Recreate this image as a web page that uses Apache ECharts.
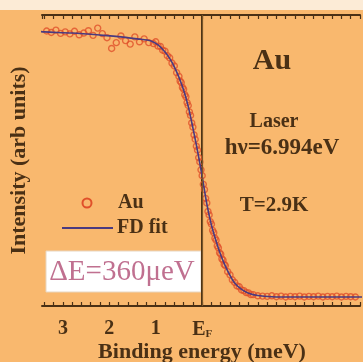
<!DOCTYPE html>
<html>
<head>
<meta charset="utf-8">
<script src="https://cdn.jsdelivr.net/npm/echarts@6/dist/echarts.min.js"></script>
<style>
  html, body { margin: 0; padding: 0; background: #f9b86e; }
  #chart { width: 363px; height: 362px; }
</style>
</head>
<body>
<div id="chart"></div>
<script>
// Photoemission Fermi edge of Au, laser source, T = 2.9 K
const fitEnergy = [3.6, 3.4, 2.8, 2.2, 1.7, 1.4, 1.1, 0.95, 0.8, 0.7, 0.6, 0.5, 0.4, 0.3, 0.2, 0.1, 0,
  -0.1, -0.2, -0.3, -0.4, -0.5, -0.6, -0.7, -0.85, -1.0, -1.2, -1.5, -2.0, -3.6];
const fitIntensity = [0.945, 0.942, 0.938, 0.931, 0.924, 0.918, 0.911, 0.897, 0.873, 0.851, 0.822, 0.786, 0.742, 0.686, 0.612, 0.533, 0.445,
  0.351, 0.278, 0.223, 0.175, 0.137, 0.105, 0.079, 0.057, 0.044, 0.036, 0.032, 0.031, 0.031];

const dataEnergy = [3.35, 3.25, 3.15, 3.05, 2.95, 2.85, 2.75, 2.65, 2.55, 2.45, 2.35, 2.25, 2.15, 2.05,
  1.95, 1.85, 1.75, 1.65, 1.55, 1.45, 1.35, 1.25, 1.15, 1.05,
  1.0, 0.95, 0.9, 0.85, 0.8, 0.75, 0.7, 0.65, 0.6, 0.55, 0.5,
  0.475, 0.45, 0.425, 0.4, 0.375, 0.35, 0.325, 0.3, 0.275, 0.25, 0.225, 0.2, 0.175, 0.15, 0.125, 0.1,
  0.075, 0.05, 0.025, 0, -0.025, -0.05, -0.075, -0.1, -0.125, -0.15, -0.175, -0.2, -0.225, -0.25,
  -0.275, -0.3, -0.325, -0.35, -0.375, -0.4, -0.425, -0.45, -0.475, -0.5,
  -0.55, -0.6, -0.65, -0.7, -0.75, -0.8, -0.85, -0.9, -0.95, -1.0, -1.05, -1.1,
  -1.2, -1.3, -1.4, -1.5, -1.6, -1.7, -1.8, -1.9, -2.0, -2.1, -2.2, -2.3, -2.4, -2.5,
  -2.6, -2.7, -2.8, -2.9, -3.0, -3.1, -3.2, -3.3];
const dataIntensity = [0.945, 0.940, 0.948, 0.937, 0.942, 0.935, 0.944, 0.932, 0.938, 0.946, 0.930, 0.955, 0.936, 0.922,
  0.885, 0.905, 0.928, 0.912, 0.900, 0.925, 0.908, 0.918, 0.905, 0.902,
  0.908, 0.893, 0.892, 0.879, 0.876, 0.860, 0.853, 0.835, 0.825, 0.802, 0.789,
  0.773, 0.768, 0.751, 0.745, 0.726, 0.719, 0.699, 0.689, 0.667, 0.655, 0.629, 0.615, 0.588, 0.573, 0.549, 0.536,
  0.510, 0.495, 0.468, 0.448, 0.418, 0.400, 0.370, 0.354, 0.325, 0.313, 0.290, 0.281, 0.260, 0.252,
  0.233, 0.226, 0.207, 0.200, 0.183, 0.178, 0.162, 0.158, 0.143, 0.139,
  0.118, 0.107, 0.090, 0.081, 0.069, 0.066, 0.055, 0.053, 0.046, 0.045, 0.039, 0.039,
  0.035, 0.034, 0.033, 0.035, 0.032, 0.034, 0.031, 0.033, 0.032, 0.034, 0.031, 0.033, 0.032, 0.034,
  0.031, 0.033, 0.032, 0.034, 0.031, 0.033, 0.032, 0.031];

const tickLabels = { 3: '3', 2: '2', 1: '1' };

const ink = '#4a3015';
const serif = 'Liberation Serif';

const chart = echarts.init(document.getElementById('chart'), null, { renderer: 'canvas' });

const isWhole = v => Math.abs(v - Math.round(v)) < 1e-6;

const axisCommon = {
  type: 'value', min: -3.4, max: 3.45, inverse: true, interval: 0.2,
  splitLine: { show: false },
  axisLine: { show: true, lineStyle: { color: ink, width: 2 } },
  axisTick: { show: true, inside: true, length: 4, lineStyle: { color: ink, width: 1.2 } }
};

chart.setOption({
  backgroundColor: '#f9b86e',
  animation: false,
  grid: { left: 42, top: 15, right: 0, height: 291 },
  xAxis: [
    Object.assign({}, axisCommon, {
      position: 'bottom',
      axisLabel: {
        margin: 13, interval: 0, showMinLabel: true, showMaxLabel: false,
        color: ink, fontFamily: serif, fontSize: 20, fontWeight: 'bold',
        formatter: v => {
          if (!isWhole(v)) return '';
          const n = Math.round(v);
          return n === 0 ? '{e|E}{s|F}' : (tickLabels[n] || '');
        },
        rich: {
          e: { fontFamily: serif, fontSize: 20, fontWeight: 'bold', color: ink },
          s: { fontFamily: serif, fontSize: 11, fontWeight: 'bold', color: ink, verticalAlign: 'bottom', padding: [10, 0, 0, 0] }
        }
      }
    }),
    Object.assign({}, axisCommon, { position: 'top', axisLabel: { show: false } })
  ],
  yAxis: {
    type: 'value', min: 0, max: 1,
    name: 'Intensity (arb units)', nameLocation: 'middle', nameGap: 12, nameRotate: 90,
    nameTextStyle: { color: ink, fontFamily: serif, fontSize: 22, fontWeight: 'bold' },
    axisLine: { show: true, lineStyle: { color: ink, width: 2 } },
    axisTick: { show: false }, axisLabel: { show: false }, splitLine: { show: false }
  },
  series: [
    {
      name: 'Au', type: 'scatter',
      data: dataEnergy.map((e, i) => [e, dataIntensity[i]]),
      symbol: 'circle', symbolSize: 6,
      itemStyle: { color: 'rgba(0,0,0,0)', borderColor: '#e0502a', borderWidth: 1.4 },
      z: 2
    },
    {
      name: 'FD fit', type: 'line',
      data: fitEnergy.map((e, i) => [e, fitIntensity[i]]),
      smooth: 0.3, symbol: 'none',
      lineStyle: { color: '#4a3a80', width: 1.6 },
      z: 3,
      markLine: {
        silent: true, symbol: 'none', label: { show: false },
        lineStyle: { color: '#7a5628', width: 1.2, type: 'solid' },
        data: [{ xAxis: 0 }]
      }
    }
  ],
  graphic: [
    { type: 'rect', left: 0, top: 0, shape: { width: 363, height: 10 }, style: { fill: '#fcebd6' }, z: -1 },
    // legend
    { type: 'circle', shape: { cx: 87, cy: 203, r: 4.5 }, style: { fill: 'none', stroke: '#e0502a', lineWidth: 2 } },
    { type: 'text', x: 118, y: 203, style: { text: 'Au', fill: ink, font: 'bold 20px "Liberation Serif"', verticalAlign: 'middle' } },
    { type: 'line', shape: { x1: 62, y1: 228, x2: 113, y2: 228 }, style: { stroke: '#4a3a80', lineWidth: 2 } },
    { type: 'text', x: 117, y: 228, style: { text: 'FD fit', fill: ink, font: 'bold 20px "Liberation Serif"', verticalAlign: 'middle' } },
    // resolution box
    { type: 'rect', shape: { x: 46, y: 251, width: 155, height: 41 }, style: { fill: '#ffffff', stroke: '#e8d6c0', lineWidth: 1 } },
    { type: 'text', x: 122, y: 272, style: { text: 'ΔE=360μeV', fill: '#c07090', font: '29px "Liberation Serif"', align: 'center', verticalAlign: 'middle' } },
    // annotations
    { type: 'text', x: 272, y: 61, style: { text: 'Au', fill: ink, font: 'bold 30px "Liberation Serif"', align: 'center', verticalAlign: 'middle' } },
    { type: 'text', x: 274, y: 122, style: { text: 'Laser', fill: ink, font: 'bold 20px "Liberation Serif"', align: 'center', verticalAlign: 'middle' } },
    { type: 'text', x: 282, y: 148, style: { text: 'hν=6.994eV', fill: ink, font: 'bold 23px "Liberation Serif"', align: 'center', verticalAlign: 'middle' } },
    { type: 'text', x: 274, y: 206, style: { text: 'T=2.9K', fill: ink, font: 'bold 21px "Liberation Serif"', align: 'center', verticalAlign: 'middle' } },
    // x axis title
    { type: 'text', x: 202, y: 352, style: { text: 'Binding energy (meV)', fill: ink, font: 'bold 22px "Liberation Serif"', align: 'center', verticalAlign: 'middle' } }
  ]
});
</script>
</body>
</html>
